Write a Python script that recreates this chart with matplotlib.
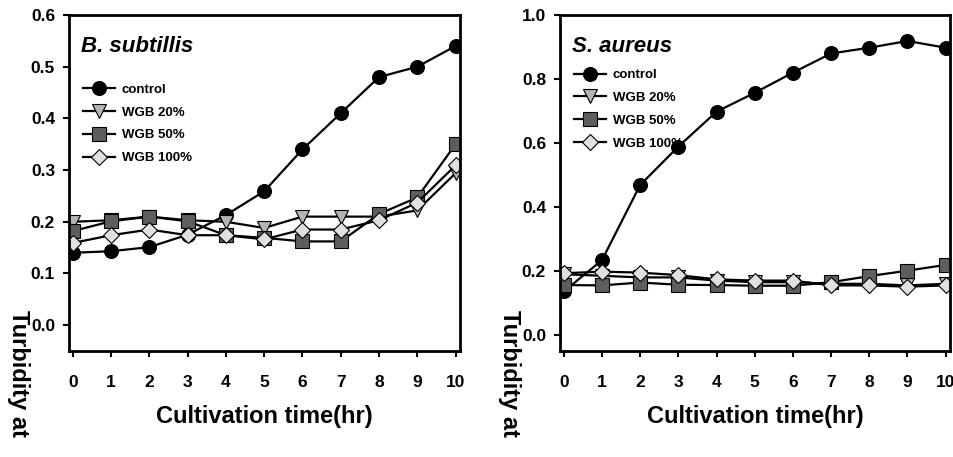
import numpy as np
import matplotlib
matplotlib.use('Agg')
import matplotlib.pyplot as plt

plt.rcParams['font.family'] = ['Liberation Sans', 'DejaVu Sans']
plt.rcParams['font.weight'] = 'bold'

hours = list(range(11))
series_names = ['control', 'WGB 20%', 'WGB 50%', 'WGB 100%']

# B. subtillis
bs_control = [0.14, 0.143, 0.151, 0.175, 0.213, 0.259, 0.34, 0.41, 0.48, 0.50, 0.54]
bs_wgb20 = [0.20, 0.203, 0.21, 0.203, 0.20, 0.188, 0.21, 0.21, 0.21, 0.222, 0.294]
bs_wgb50 = [0.182, 0.201, 0.21, 0.201, 0.174, 0.169, 0.162, 0.162, 0.215, 0.247, 0.35]
bs_wgb100 = [0.159, 0.174, 0.185, 0.174, 0.174, 0.166, 0.185, 0.185, 0.203, 0.237, 0.309]

# S. aureus
sa_control = [0.136, 0.234, 0.469, 0.589, 0.698, 0.757, 0.82, 0.88, 0.898, 0.919, 0.898]
sa_wgb20 = [0.19, 0.185, 0.18, 0.18, 0.17, 0.165, 0.165, 0.16, 0.16, 0.155, 0.16]
sa_wgb50 = [0.156, 0.155, 0.164, 0.157, 0.156, 0.154, 0.154, 0.165, 0.184, 0.201, 0.219]
sa_wgb100 = [0.193, 0.198, 0.195, 0.187, 0.174, 0.17, 0.17, 0.155, 0.155, 0.151, 0.155]

styles = [('o', 'black'), ('v', '#b4b4b4'), ('s', '#5e5e5e'), ('D', '#e0e0e0')]
msizes = [10, 10, 9.5, 8.5]

panels = [
    ('B. subtillis', [bs_control, bs_wgb20, bs_wgb50, bs_wgb100],
     [0.0, 0.1, 0.2, 0.3, 0.4, 0.5, 0.6], -0.05, 0.6,
     [0.0723, 0.232, 0.41, 0.735], (0.023, 0.812)),
    ('S. aureus', [sa_control, sa_wgb20, sa_wgb50, sa_wgb100],
     [0.0, 0.2, 0.4, 0.6, 0.8, 1.0], -0.05, 1.0,
     [0.587, 0.232, 0.409, 0.735], (0.023, 0.855)),
]

fig = plt.figure(figsize=(9.54, 4.57), dpi=100)

for title, data, yticks, ymin, ymax, rect, lpos in panels:
    ax = fig.add_axes(rect)
    for vals, name, (mk, col), ms in zip(data, series_names, styles, msizes):
        ax.plot(hours, vals, color='black', lw=1.6, marker=mk, markersize=ms,
                markerfacecolor=col, markeredgecolor='black', markeredgewidth=0.8,
                label=name)
    ax.set_xlim(-0.1, 10.12)
    ax.set_ylim(ymin, ymax)
    ax.set_xticks(hours)
    ax.set_xticklabels([str(h) for h in hours], fontsize=12.5, fontweight='bold')
    ax.set_yticks(yticks)
    ax.set_yticklabels(['%.1f' % v for v in yticks], fontsize=12.5, fontweight='bold')
    ax.tick_params(axis='both', direction='out', width=1.5, length=4)
    ax.tick_params(axis='x', pad=13)
    ax.tick_params(axis='y', pad=6)
    for sp in ax.spines.values():
        sp.set_linewidth(2)
    ax.set_xlabel('Cultivation time(hr)', fontsize=17, fontweight='bold', labelpad=11)
    ax.text(0.03, 0.905, title, transform=ax.transAxes, fontsize=16,
            fontweight='bold', fontstyle='italic', va='center')
    ax.legend(loc='upper left', bbox_to_anchor=lpos, frameon=False,
              prop={'size': 9.5, 'weight': 'bold'}, handlelength=2.4,
              handletextpad=0.5, labelspacing=0.8, borderaxespad=0.0)
    fig.text(rect[0] - 0.053, 1 - 310 / 457, 'Turbidity at', rotation=270,
             fontsize=17, fontweight='bold', ha='center', va='top')

fig.savefig('out.png', dpi=100)
